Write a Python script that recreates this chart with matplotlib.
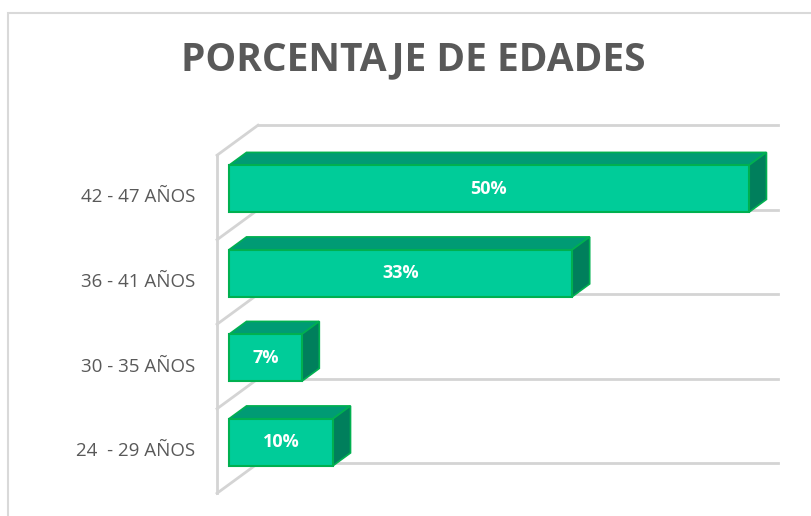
import matplotlib
matplotlib.use("Agg")
import matplotlib.pyplot as plt
from matplotlib.patches import Polygon, Rectangle

plt.rcParams['font.family'] = ['Open Sans', 'DejaVu Sans']

# data
categories = ["24  - 29 AÑOS", "30 - 35 AÑOS", "36 - 41 AÑOS", "42 - 47 AÑOS"]
values = [10, 7, 33, 50]
value_labels = ["10%", "7%", "33%", "50%"]
title = "PORCENTAJE DE EDADES"

# colours
front_col = "#00CC99"
top_col = "#009B74"
side_col = "#007F5C"
edge_col = "#00B050"
grid_col = "#D4D4D4"
text_col = "#595959"

# 3d look (depth vector in data units)
depth_dx = 3.94
depth_dy = 0.355
bar_d0 = 0.29
bar_d1 = 0.72
bar_h = 0.556
axis_max = 50

fig = plt.figure(figsize=(8.11, 5.16), dpi=100)
ax = fig.add_axes([0, 0, 1, 1])
ax.set_xlim(-20.87, 57.12)
ax.set_ylim(-0.769, 5.337)
ax.axis("off")

# chart border
fig.add_artist(Rectangle((8 / 811, -0.1), 1.2, (516 - 13) / 516 + 0.1,
                         transform=fig.transFigure, fill=False,
                         ec="#D9D9D9", lw=1.5))

n = len(categories)

# walls / gridlines
ax.plot([0, 0], [-0.5, n - 0.5], color=grid_col, lw=2, zorder=1)
for k in range(n + 1):
    yb = k - 0.5
    ax.plot([0, depth_dx], [yb, yb + depth_dy], color=grid_col, lw=2, zorder=1)
    ax.plot([depth_dx, axis_max + depth_dx], [yb + depth_dy, yb + depth_dy],
            color=grid_col, lw=2, zorder=1)

# bars
for i, v in enumerate(values):
    x0f, y0f = bar_d0 * depth_dx, i - bar_h / 2 + bar_d0 * depth_dy
    sx = (bar_d1 - bar_d0) * depth_dx
    sy = (bar_d1 - bar_d0) * depth_dy
    x1f = x0f + v
    y1f = y0f + bar_h
    top = Polygon([(x0f, y1f), (x1f, y1f), (x1f + sx, y1f + sy), (x0f + sx, y1f + sy)],
                  closed=True, fc=top_col, ec=edge_col, lw=1.2, zorder=3)
    side = Polygon([(x1f, y0f), (x1f + sx, y0f + sy), (x1f + sx, y1f + sy), (x1f, y1f)],
                   closed=True, fc=side_col, ec=edge_col, lw=1.2, zorder=3)
    front = Rectangle((x0f, y0f), v, bar_h, fc=front_col, ec=edge_col, lw=1.5, zorder=4)
    ax.add_patch(top)
    ax.add_patch(side)
    ax.add_patch(front)
    ax.text(x0f + v / 2, y0f + bar_h / 2, value_labels[i], color="white",
            fontsize=13, fontweight="bold", ha="center", va="center", zorder=5)

# category labels
for i, c in enumerate(categories):
    ax.text(-2.1, i, c, color=text_col, fontsize=13.5, ha="right", va="center")

fig.text(413 / 811, 1 - 60 / 516, title, color=text_col, fontsize=28,
         fontweight="bold", ha="center", va="center")

fig.savefig("out.png", dpi=100)
